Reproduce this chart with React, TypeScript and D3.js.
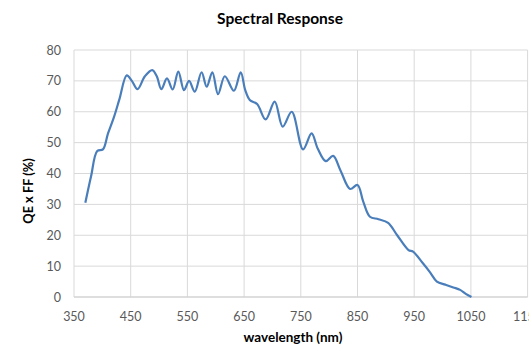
import React from "react";
import * as d3 from "d3";

const wavelengths = [370, 380, 391, 401, 410, 420, 430, 443, 452, 462, 475, 488, 496, 504, 514, 524, 534, 544, 553, 563, 575, 584, 594, 604, 616, 632, 644, 652, 660, 673, 688, 704, 718, 734, 754, 769, 780, 794, 807, 820, 837, 850, 860, 872, 887, 904, 920, 940, 948, 965, 978, 990, 1005, 1019, 1031, 1041, 1051];
const qeff = [30.5, 39, 47.3, 47.8, 53, 58, 64, 71.8, 70, 67.3, 71.5, 73.5, 71.5, 67.3, 70.8, 67.2, 73, 67, 70, 66.5, 72.8, 68.1, 72.8, 65.7, 71.5, 66.8, 72.8, 67, 63.8, 62.5, 57.5, 63.3, 55.2, 60, 47.8, 53, 48, 44, 45.7, 41, 35, 36.3, 31, 26, 25.2, 24, 20, 15.2, 14.7, 11, 8, 5, 4, 3.1, 2.3, 1, 0];
const xTicks = [350, 450, 550, 650, 750, 850, 950, 1050, 1150];
const yTicks = [0, 10, 20, 30, 40, 50, 60, 70, 80];

const W = 529;
const H = 347;
const FONT = "Lato, 'Open Sans', sans-serif";

export default function App() {
  const x = d3.scaleLinear().domain([350, 1150]).range([74, 527.6]);
  const y = d3.scaleLinear().domain([0, 80]).range([297, 50]);
  const data = wavelengths.map((w, i) => [w, qeff[i]] as [number, number]);
  const line = d3
    .line<[number, number]>()
    .x((d) => x(d[0]))
    .y((d) => y(d[1]))
    .curve(d3.curveCatmullRom.alpha(0.5));

  return (
    <svg
      width={W}
      height={H}
      style={{ position: "absolute", left: 0, top: 0, background: "#fff" }}
    >
      <rect x={0} y={0} width={W} height={H} fill="#fff" />
      <text
        x={280}
        y={23.5}
        textAnchor="middle"
        fontFamily={FONT}
        fontWeight="bold"
        fontSize={15.5}
        fill="#000"
      >
        Spectral Response
      </text>
      {yTicks.map((t) => (
        <line
          key={"gy" + t}
          x1={x(350)}
          x2={x(1150)}
          y1={y(t)}
          y2={y(t)}
          stroke="#d9d9d9"
          strokeWidth={1}
        />
      ))}
      {xTicks.map((t) => (
        <line
          key={"gx" + t}
          x1={x(t)}
          x2={x(t)}
          y1={y(0)}
          y2={y(80)}
          stroke="#d9d9d9"
          strokeWidth={1}
        />
      ))}
      <line x1={x(350)} x2={x(1150)} y1={y(0)} y2={y(0)} stroke="#d0d0d0" strokeWidth={1.2} />
      {yTicks.map((t) => (
        <text
          key={"ly" + t}
          x={61}
          y={y(t) + 4.5}
          textAnchor="end"
          fontFamily={FONT}
          fontSize={12.5}
          fill="#595959"
        >
          {t}
        </text>
      ))}
      {xTicks.map((t) => (
        <text
          key={"lx" + t}
          x={x(t)}
          y={320.5}
          textAnchor="middle"
          fontFamily={FONT}
          fontSize={12.5}
          fill="#595959"
        >
          {t}
        </text>
      ))}
      <path d={line(data) || ""} fill="none" stroke="#4a7ebb" strokeWidth={2.2} strokeLinejoin="round" />
      <text
        x={293}
        y={342}
        textAnchor="middle"
        fontFamily={FONT}
        fontWeight="bold"
        fontSize={13.5}
        fill="#000"
      >
        wavelength (nm)
      </text>
      <text
        transform={`translate(32.5,191) rotate(-90)`}
        textAnchor="middle"
        fontFamily={FONT}
        fontWeight="bold"
        fontSize={12.8}
        fill="#000"
      >
        QE x FF (%)
      </text>
    </svg>
  );
}
